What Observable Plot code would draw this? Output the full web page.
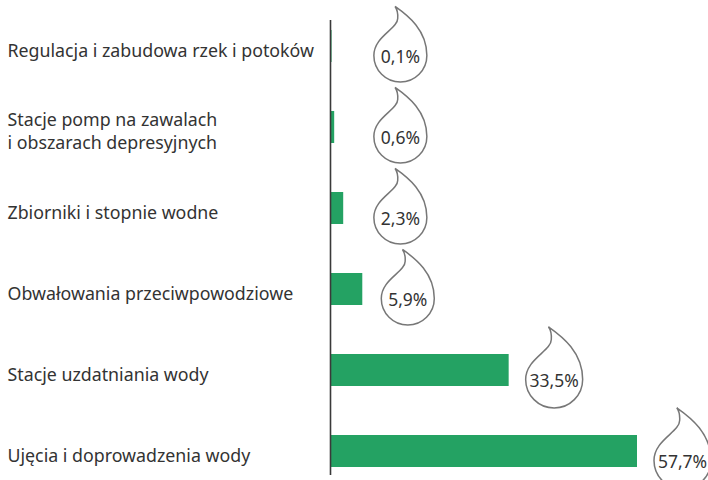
<!DOCTYPE html>
<html>
<head>
<meta charset="utf-8">
<script src="https://cdn.jsdelivr.net/npm/d3@7"></script>
<script src="https://cdn.jsdelivr.net/npm/@observablehq/plot@0.6"></script>
<style>
  html, body { margin: 0; padding: 0; background: #fff; }
  #chart svg { display: block; }
</style>
</head>
<body>
<div id="chart"></div>
<script>
const categories = [
  "Regulacja i zabudowa rzek i potoków",
  "Stacje pomp na zawalach\ni obszarach depresyjnych",
  "Zbiorniki i stopnie wodne",
  "Obwałowania przeciwpowodziowe",
  "Stacje uzdatniania wody",
  "Ujęcia i doprowadzenia wody"
];
const values = [0.1, 0.6, 2.3, 5.9, 33.5, 57.7];
const valueLabels = ["0,1%", "0,6%", "2,3%", "5,9%", "33,5%", "57,7%"];

const data = categories.map((c, i) => ({category: c, value: values[i], label: valueLabels[i]}));

// teardrop symbol (unit shape, circle radius 1 centred at origin, tip above)
const drop = {
  draw(ctx, size) {
    const R = Math.sqrt(size / Math.PI);
    const p = (x, y) => [x * R, y * R];
    ctx.moveTo(...p(-0.2, -1.85));
    ctx.bezierCurveTo(...p(0.3, -1.5), ...p(1.0, -0.95), ...p(1.0, 0));
    ctx.arc(0, 0, R, 0, Math.PI, false);
    ctx.bezierCurveTo(...p(-1.0, -0.72), ...p(-0.1, -1.0), ...p(-0.1, -1.4));
    ctx.quadraticCurveTo(...p(-0.08, -1.68), ...p(-0.2, -1.85));
    ctx.closePath();
  }
};

const font = "'Noto Sans', sans-serif";

const chart = Plot.plot({
  width: 708,
  height: 480,
  marginLeft: 331,
  marginRight: 71,
  marginTop: 18,
  marginBottom: 0,
  style: {fontFamily: font, background: "#fff"},
  x: {domain: [0, 57.7], axis: null},
  y: {domain: categories, axis: null, paddingInner: 0.6, paddingOuter: 0.15},
  r: {type: "identity"},
  marks: [
    Plot.barX(data, {x: "value", y: "category", fill: "#24a263"}),
    Plot.ruleX([0], {stroke: "#3a3a3a", strokeWidth: 1.6, dx: -1, insetTop: 2, insetBottom: 5}),
    Plot.text(data, {
      x: () => 0, y: "category", text: "category",
      textAnchor: "start", dx: -324, dy: 3,
      fontSize: 17.8, fill: "#333", lineHeight: 1.3
    }),
    Plot.dot(data, {
      x: d => Math.max(d.value, 4.5), y: "category",
      r: d => d.label.length > 4 ? 28.5 : 26.5,
      symbol: drop, dx: 45, dy: 9,
      fill: "#fff", stroke: "#777", strokeWidth: 1.5
    }),
    Plot.text(data, {
      x: d => Math.max(d.value, 4.5), y: "category", text: "label",
      dx: 45, dy: 11, fontSize: 17.5, fill: "#333"
    })
  ]
});
document.getElementById("chart").appendChild(chart);
</script>
</body>
</html>
